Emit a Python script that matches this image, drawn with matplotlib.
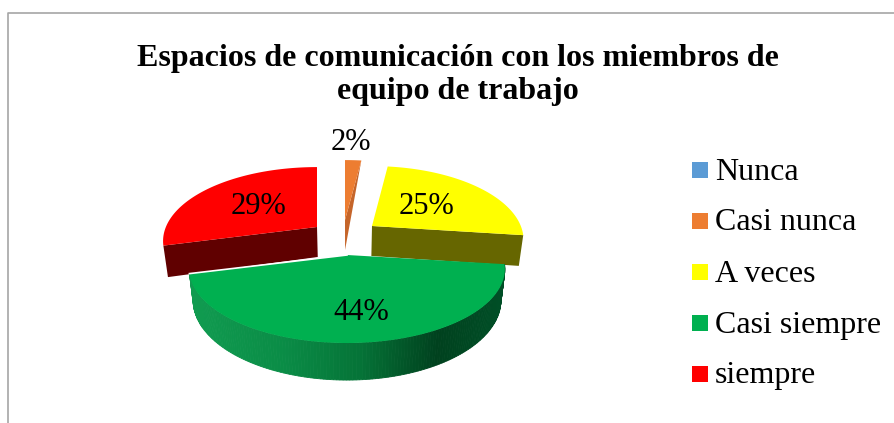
import numpy as np
import matplotlib
matplotlib.use('Agg')
import matplotlib.pyplot as plt
from matplotlib.patches import Polygon, Rectangle

plt.rcParams['font.family'] = ['Liberation Serif', 'DejaVu Serif']

# chart data
title = 'Espacios de comunicación con los miembros de\nequipo de trabajo'
categories = ['Nunca', 'Casi nunca', 'A veces', 'Casi siempre', 'siempre']
values = [0, 2, 25, 44, 29]
colors = ['#5B9BD5', '#ED7D31', '#FFFF00', '#00B050', '#FF0000']
sideColors = ['#41719C', '#C5652A', '#666600', '#006030', '#600000']
# how far each slice is pulled out, in pixels
offsets = [(0, 0), (-2, -35), (25, -29), (0, 0), (-30, -28)]
# pulled out slices look a bit narrower
xScale = [1, 1, 0.96, 1, 0.975]
labelPos = [None, (351, 143), (426, 206), (361, 312), (258, 207)]

# pie geometry (pixels) with a small perspective
cx, cy = 347, 255
a, b = 155, 71.3
persp = 0.19
depth = 30
shrink = 0.975

# gradient for the round wall of the pie, left to right
gradPos = [0, 0.3, 0.55, 0.8, 1]
gradR = [16, 10, 5, 0, 0]
gradG = [155, 140, 115, 65, 78]
gradB = [80, 70, 55, 30, 38]


def project(ang, sx=1.0, r=1.0):
    # angle in degrees clockwise from the top of the pie
    t = np.radians(ang)
    X = r*np.sin(t)
    Y = r*np.cos(t)
    w = 1 + persp*Y
    return sx*a*X/w, -b*Y/w, depth/w


def top(ang, i, r=1.0):
    x, y, d = project(ang, xScale[i], r)
    return cx + x + offsets[i][0], cy + y + offsets[i][1]


def bottom(ang, i, r=1.0):
    x, y, d = project(ang, xScale[i], r)
    px = cx + x + offsets[i][0]
    return cx + (px - cx)*shrink, cy + y + offsets[i][1] + d


fig = plt.figure(figsize=(8.94, 4.23), dpi=100)
ax = fig.add_axes([0, 0, 1, 1])
ax.set_xlim(0, 894)
ax.set_ylim(423, 0)
ax.axis('off')

# chart frame
ax.plot([894, 7.5, 7.5], [13, 13, 423], color='#A6A6A6', lw=1.2)

angles = np.concatenate(([0], np.cumsum(values)))*360/np.sum(values)

# back slices first, the big green one goes on top
for i in [4, 2, 1, 3]:
    start, end = angles[i], angles[i+1]
    arc = np.arange(start, end + 0.5, 1.0)
    arc[-1] = end
    center = top(0, i, 0)
    centerLow = bottom(0, i, 0)

    if i == 3:
        # round wall with shading
        xLeft = bottom(end, i)[0]
        xRight = bottom(start, i)[0]
        for a0, a1 in zip(arc[:-1], arc[1:]):
            quad = [top(a0, i), top(a1, i), bottom(a1, i), bottom(a0, i)]
            f = (quad[0][0] - xLeft)/(xRight - xLeft)
            c = (np.interp(f, gradPos, gradR)/255, np.interp(f, gradPos, gradG)/255,
                 np.interp(f, gradPos, gradB)/255)
            ax.add_patch(Polygon(quad, closed=True, fc=c, ec=c, lw=0.6))
    elif i == 1:
        # thin slice, only the cut face shows
        ax.add_patch(Polygon([top(end, i), center, centerLow], closed=True,
                             fc=sideColors[i], ec='none'))
    else:
        # yellow shows its closing cut, red its opening cut
        edge = end if i == 2 else start
        ax.add_patch(Polygon([center, top(edge, i), bottom(edge, i), centerLow],
                             closed=True, fc=sideColors[i], ec='none'))

    pts = [center] + [top(t, i) for t in arc]
    ax.add_patch(Polygon(pts, closed=True, fc=colors[i], ec='none'))

    if i == 3:
        # thin white line where the red slice sits behind
        p0, p1 = top(end, i), center
        ax.plot([p0[0], p1[0]], [p0[1], p1[1]], color='white', lw=1.2)

# value labels
for v, pos in zip(values, labelPos):
    if pos is None:
        continue
    ax.text(pos[0], pos[1], '%d%%' % v, fontsize=22, ha='center', va='center', color='black')

ax.text(457.5, 75, title, fontsize=23, fontweight='bold', ha='center', va='center',
        linespacing=1.2, color='black')

# legend
for n, name in enumerate(categories):
    yc = 170 + n*51
    ax.add_patch(Rectangle((692, yc - 8), 16, 16, fc=colors[n], ec='none'))
    ax.text(715, yc + 2, name, fontsize=23, ha='left', va='center', color='black')

fig.savefig('out.png', dpi=100)
